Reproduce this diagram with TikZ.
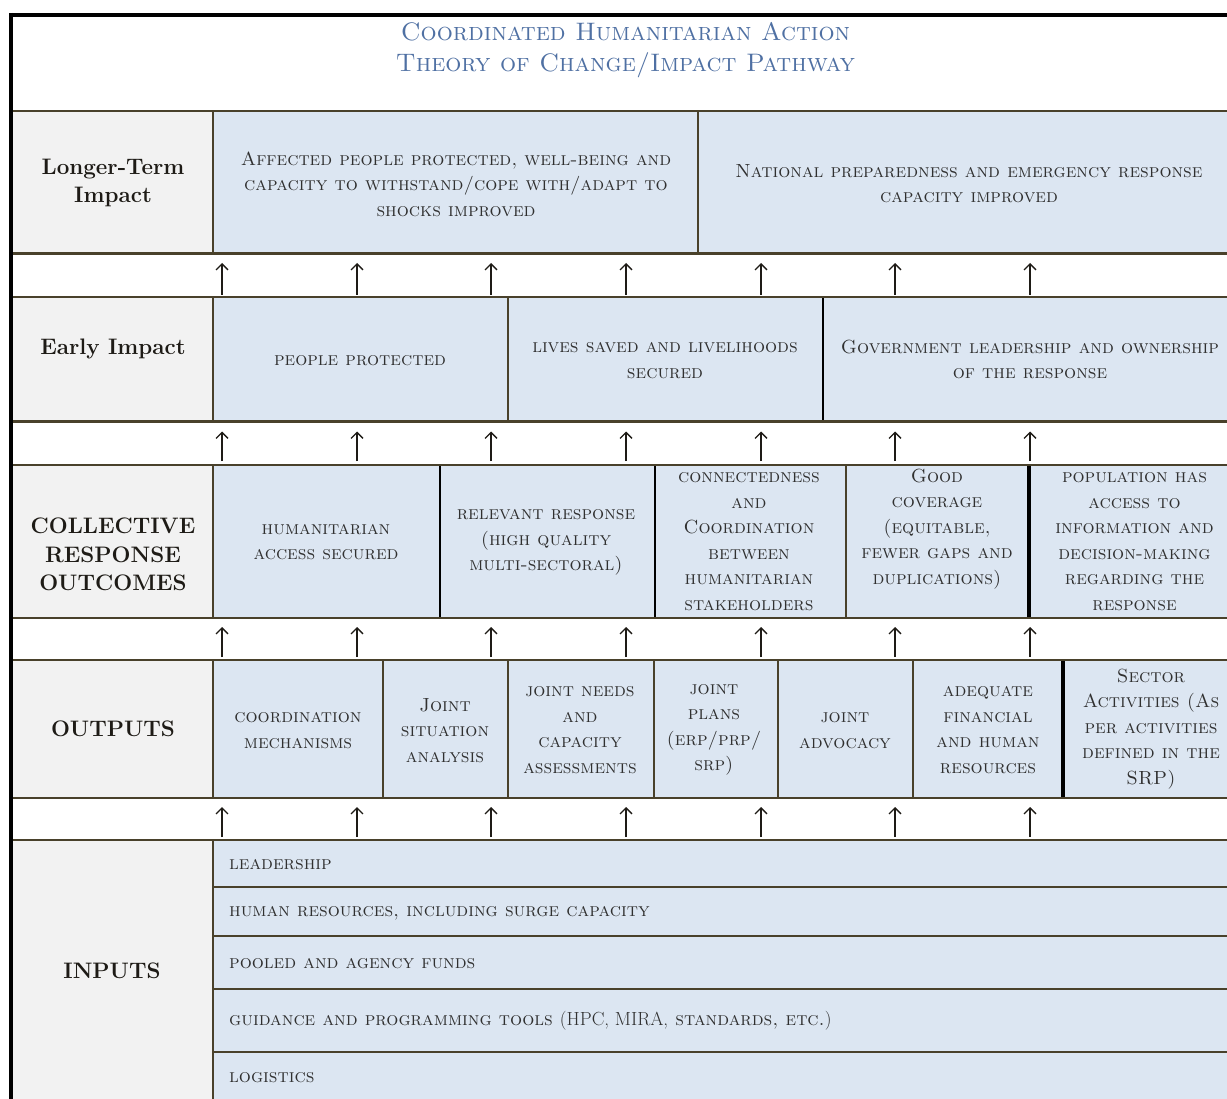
\documentclass[tikz,border=0pt]{standalone}
\usetikzlibrary{arrows.meta}
\definecolor{olive}{RGB}{73,65,43}
\definecolor{cellfill}{RGB}{220,230,242}
\definecolor{leftfill}{RGB}{242,242,242}
\definecolor{celltext}{RGB}{48,48,48}
\definecolor{lbltext}{RGB}{30,27,22}
\definecolor{ttlblue}{RGB}{79,112,163}
\tikzset{
  celltxt/.style={font=\fontsize{19}{25.5}\selectfont\scshape, text=celltext, align=center, inner sep=0pt},
  inptxt/.style={font=\fontsize{19}{25.5}\selectfont\scshape, text=celltext, anchor=west, inner sep=0pt},
  lbl/.style={font=\fontsize{22.4}{28.7}\selectfont\bfseries, text=lbltext, align=center, inner sep=0pt},
  ttl/.style={font=\fontsize{25.3}{31}\selectfont\scshape, text=ttlblue, align=center, inner sep=0pt},
  hline/.style={draw=olive, line width=2.7pt},
  vol/.style={draw=olive, line width=2.7pt},
  vblk/.style={draw=black, line width=#1},
  frame/.style={draw=black, line width=4pt},
  uparrow/.style={draw=lbltext, line width=1.3pt, -{Straight Barb[length=6pt,width=12pt]}}
}
\begin{document}
\begin{tikzpicture}[x=1pt,y=-1pt]
\clip (0,0) rectangle (1227,1099);
\fill[white] (0,0) rectangle (1227,1099);
% row fills
\foreach \a/\b in {111/253.5, 297/421.5, 465/618, 660/798, 840/1110}{
  \fill[leftfill] (13,\a) rectangle (213,\b);
  \fill[cellfill] (213,\a) rectangle (1240,\b);
}
% left column line
\foreach \a/\b in {111/253.5, 297/421.5, 465/618, 660/798, 840/1110}{
  \draw[vol] (213,\a) -- (213,\b);
}
% vertical dividers
\draw[vol] (698,111) -- (698,253.5);
\draw[vol] (508,297) -- (508,421.5);
\draw[vblk=1.6pt] (823,297) -- (823,421.5);
\draw[vblk=1.2pt] (440,465) -- (440,618);
\draw[vblk=1.6pt] (655,465) -- (655,618);
\draw[vol] (846,465) -- (846,618);
\draw[vblk=3.5pt] (1029,465) -- (1029,618);
\foreach \x in {383,508,654,778,913}{\draw[vol] (\x,660) -- (\x,798);}
\draw[vblk=3.5pt] (1063,660) -- (1063,798);
% horizontal lines
\foreach \y in {111,253.5,297,421.5,465,618,660,798,840}{
  \draw[hline] (13,\y) -- (1240,\y);
}
\foreach \y in {887,936,989,1052}{
  \draw[hline] (213,\y) -- (1240,\y);
}
% frame
\draw[frame] (9,15) -- (1240,15);
\draw[frame] (11,13) -- (11,1110);
% arrows
\foreach \t/\b in {263/295, 431.5/461, 627/657, 807/837}{
  \foreach \x in {222,357,491,626,761,895,1030}{
    \draw[uparrow] (\x,\b) -- (\x,\t);
  }
}
% title
\node[ttl] (title) at (625.5,50.5) {Coordinated Humanitarian Action\\Theory of Change/Impact Pathway};
% left labels
\node[lbl] (lt) at (113,183) {Longer-Term\\Impact};
\node[lbl] (ei) at (113,349) {Early Impact};
\node[lbl] (cro) at (113,554.5) {COLLECTIVE\\RESPONSE\\OUTCOMES};
\node[lbl] (out) at (113,729) {OUTPUTS};
\node[lbl] (inp) at (112,971) {INPUTS};
% longer-term impact
\node[celltxt] (affected) at (456,184) {Affected people protected, well-being and\\capacity to withstand/cope with/adapt to\\shocks improved};
\node[celltxt] (national) at (969,183.5) {National preparedness and emergency response\\capacity improved};
% early impact
\node[celltxt] (people) at (360,361) {people protected};
\node[celltxt] (lives) at (665,360.5) {lives saved and livelihoods\\secured};
\node[celltxt] (govt) at (1030,359.5) {Government leadership and ownership\\of the response};
% collective response outcomes
\node[celltxt] (humacc) at (326,542) {humanitarian\\access secured};
\node[celltxt] (relevant) at (546,542.5) {relevant response\\(high quality\\multi-sectoral)};
\node[celltxt] (connect) at (749,541.5) {connectedness\\and\\Coordination\\between\\humanitarian\\stakeholders};
\node[celltxt] (good) at (937,529) {Good\\coverage\\(equitable,\\fewer gaps and\\duplications)};
\node[celltxt] (popul) at (1134.5,541.5) {population has\\access to\\information and\\decision-making\\regarding the\\response};
% outputs
\node[celltxt] (coord) at (298,730.5) {coordination\\mechanisms};
\node[celltxt] (jsa) at (445,730.5) {Joint\\situation\\analysis};
\node[celltxt] (jna) at (580,730) {joint needs\\and\\capacity\\assessments};
\node[celltxt] (jplans) at (714,730) {joint\\plans\\(erp/prp/\\srp)};
\node[celltxt] (jadv) at (845,730.5) {joint\\advocacy};
\node[celltxt] (adeq) at (988,730) {adequate\\financial\\and human\\resources};
\node[celltxt] (sector) at (1151,729) {Sector\\Activities (As\\per activities\\defined in the\\SRP)};
% inputs
\node[inptxt] (lead) at (229,865) {leadership};
\node[inptxt] (hr) at (229,913) {human resources, including surge capacity};
\node[inptxt] (pool) at (229,964) {pooled and agency funds};
\node[inptxt] (guid) at (229,1021) {guidance and programming tools {\upshape(HPC, MIRA,} standards, etc.{\upshape)}};
\node[inptxt] (logi) at (229,1078) {logistics};
\end{tikzpicture}
\end{document}
